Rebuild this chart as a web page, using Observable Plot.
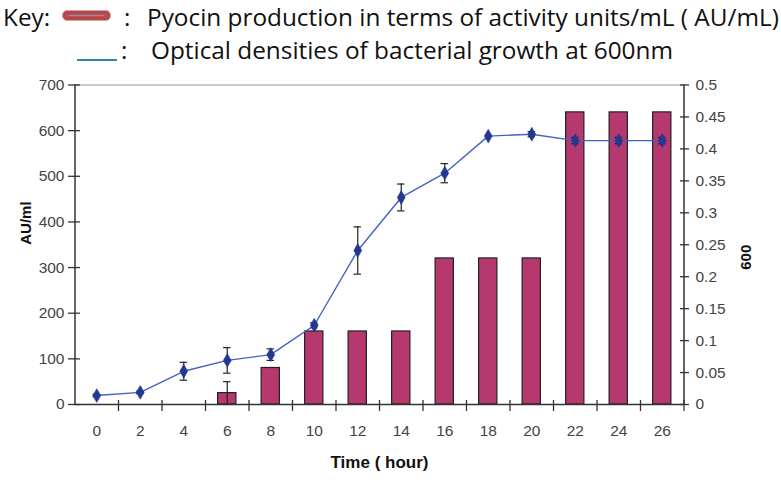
<!DOCTYPE html>
<html>
<head>
<meta charset="utf-8">
<script src="https://cdn.jsdelivr.net/npm/d3@7"></script>
<script src="https://cdn.jsdelivr.net/npm/@observablehq/plot@0.6"></script>
<style>
  body { margin: 0; background: #fff; }
  #key { position: relative; width: 781px; height: 70px; font-family: "Open Sans", Lato, sans-serif; font-size: 22px; color: #111; overflow: hidden; }
  #key span { position: absolute; white-space: nowrap; line-height: 1; }
  #swatch { position: absolute; left: 62px; top: 10px; width: 47px; height: 9px; background: #c0504d; border: 1px solid #d9a0a0; border-radius: 5px; box-shadow: inset 0 0 0 3px #b4474a; }
  #swatch::after { content: ""; position: absolute; left: 6px; right: 6px; top: 4px; height: 1px; background: #8a8fb8; }
  #lineSw { position: absolute; left: 77px; top: 59px; width: 40px; height: 2px; background: #31849b; }
</style>
</head>
<body>
<div id="key">
  <span id="k0" style="left:3px; top:5px">Key:</span>
  <div id="swatch"></div>
  <span style="left:124px; top:5px">:</span>
  <span id="t1" style="left:147px; top:5px">Pyocin production in terms of activity units/mL ( AU/mL)</span>
  <div id="lineSw"></div>
  <span style="left:121px; top:38px">:</span>
  <span id="t2" style="left:151px; top:38px">Optical densities of bacterial growth at 600nm</span>
</div>
<div id="chart"></div>
<script>
const hours = [0, 2, 4, 6, 8, 10, 12, 14, 16, 18, 20, 22, 24, 26];
const pyocin = [0, 0, 0, 25, 80, 160, 160, 160, 320, 320, 320, 640, 640, 640];
const pyocinErr = [0, 0, 0, 25, 0, 0, 0, 0, 0, 0, 0, 0, 0, 0];
const od = [0.014, 0.019, 0.052, 0.069, 0.078, 0.124, 0.241, 0.324, 0.362, 0.420, 0.423, 0.413, 0.413, 0.413];
const odErr = [0.002, 0.002, 0.014, 0.020, 0.009, 0.004, 0.037, 0.021, 0.015, 0, 0.004, 0.005, 0.005, 0.005];
const leftTicks = [0, 100, 200, 300, 400, 500, 600, 700];
const rightTicks = [0, 0.05, 0.1, 0.15, 0.2, 0.25, 0.3, 0.35, 0.4, 0.45, 0.5];
const odScale = 700 / 0.5; // right axis 0..0.5 maps onto left 0..700

// fit key text width to the reference (first line spans ~632px)
(function fitKey() {
  const t1 = document.getElementById("t1");
  const w = t1.getBoundingClientRect().width;
  const fs = 22 * 632 / w;
  document.getElementById("key").style.fontSize = fs.toFixed(2) + "px";
})();

const rows = hours.map((h, i) => ({
  hour: h, au: pyocin[i], auErr: pyocinErr[i],
  od: od[i] * odScale, odLo: (od[i] - odErr[i]) * odScale, odHi: (od[i] + odErr[i]) * odScale, odErr: odErr[i]
}));
const barRows = rows.filter(d => d.au > 0);
const barErrRows = rows.filter(d => d.auErr > 0);
const odErrRows = rows.filter(d => d.odErr > 0);
const halfBar = 0.42, cap = 0.17;

const font = "'Liberation Sans', Arial, sans-serif";
const tickColor = "#333";

const chart = Plot.plot({
  width: 781,
  height: 414,
  marginLeft: 74.5,
  marginRight: 97.5,
  marginTop: 14.5,
  marginBottom: 80,
  style: { fontFamily: font, fontSize: "15.5px", background: "#fff" },
  x: { domain: [-1, 27], axis: null, label: null },
  y: { domain: [0, 700], axis: null, label: null },
  marks: [
    Plot.ruleY([700], { stroke: "#999", strokeWidth: 1 }),
    // bars
    Plot.rectY(barRows, { x1: d => d.hour - halfBar, x2: d => d.hour + halfBar, y1: 0, y2: "au", fill: "#b5396f", stroke: "#222", strokeWidth: 1.2 }),
    Plot.ruleX(barErrRows, { x: "hour", y1: d => d.au - d.auErr, y2: d => d.au + d.auErr, stroke: "#222", strokeWidth: 1.2 }),
    Plot.ruleY(barErrRows, { y: d => d.au + d.auErr, x1: d => d.hour - cap, x2: d => d.hour + cap, stroke: "#222", strokeWidth: 1.2 }),
    Plot.ruleY(barErrRows, { y: d => d.au - d.auErr, x1: d => d.hour - cap, x2: d => d.hour + cap, stroke: "#222", strokeWidth: 1.2 }),
    // OD error bars
    Plot.ruleX(odErrRows, { x: "hour", y1: "odLo", y2: "odHi", stroke: "#222", strokeWidth: 1.2 }),
    Plot.ruleY(odErrRows, { y: "odHi", x1: d => d.hour - cap, x2: d => d.hour + cap, stroke: "#222", strokeWidth: 1.2 }),
    Plot.ruleY(odErrRows, { y: "odLo", x1: d => d.hour - cap, x2: d => d.hour + cap, stroke: "#222", strokeWidth: 1.2 }),
    // OD line
    Plot.line(rows, { x: "hour", y: "od", stroke: "#4262c4", strokeWidth: 1.4 }),
    Plot.dot(rows, { x: "hour", y: "od", symbol: "diamond", r: 4.2, fill: "#23388f", stroke: "#23388f", strokeWidth: 0.5 }),
    // axis lines
    Plot.ruleX([-1], { y1: 0, y2: 700, stroke: tickColor, strokeWidth: 1.5 }),
    Plot.ruleX([27], { y1: 0, y2: 700, stroke: tickColor, strokeWidth: 1.5 }),
    Plot.ruleY([0], { x1: -1, x2: 27, stroke: tickColor, strokeWidth: 1.5 }),
    // left axis
    Plot.axisY(leftTicks, { anchor: "left", label: null, tickSize: 12, dx: 5.5, tickPadding: 4, color: "#444", stroke: tickColor, strokeWidth: 1.3 }),
    // right axis
    Plot.axisY(rightTicks.map(v => v * odScale), { anchor: "right", label: null, tickSize: 9, dx: -4.5, tickPadding: 7, color: "#444", stroke: tickColor, strokeWidth: 1.3, tickFormat: d => String(+(d / odScale).toFixed(2)) }),
    // x axis: ticks at band boundaries, labels at hours
    Plot.axisX([1, 3, 5, 7, 9, 11, 13, 15, 17, 19, 21, 23, 25, 27], { anchor: "bottom", label: null, tickSize: 11, dy: -4, tickFormat: () => "", stroke: tickColor, strokeWidth: 1.3 }),
    Plot.axisX(hours, { anchor: "bottom", label: null, tickSize: 0, tickPadding: 20, color: "#444" }),
    // axis titles
    Plot.text(["AU/ml"], { frameAnchor: "left", dx: -49, rotate: -90, fontSize: 15, fontWeight: "bold", fill: "#111" }),
    Plot.text(["600"], { frameAnchor: "right", dx: 62, rotate: -90, fontSize: 15, fontWeight: "bold", fill: "#111" }),
    Plot.text(["Time ( hour)"], { frameAnchor: "bottom", dy: 63, fontSize: 17, fontWeight: "bold", fill: "#111" })
  ]
});
document.getElementById("chart").appendChild(chart);
</script>
</body>
</html>
